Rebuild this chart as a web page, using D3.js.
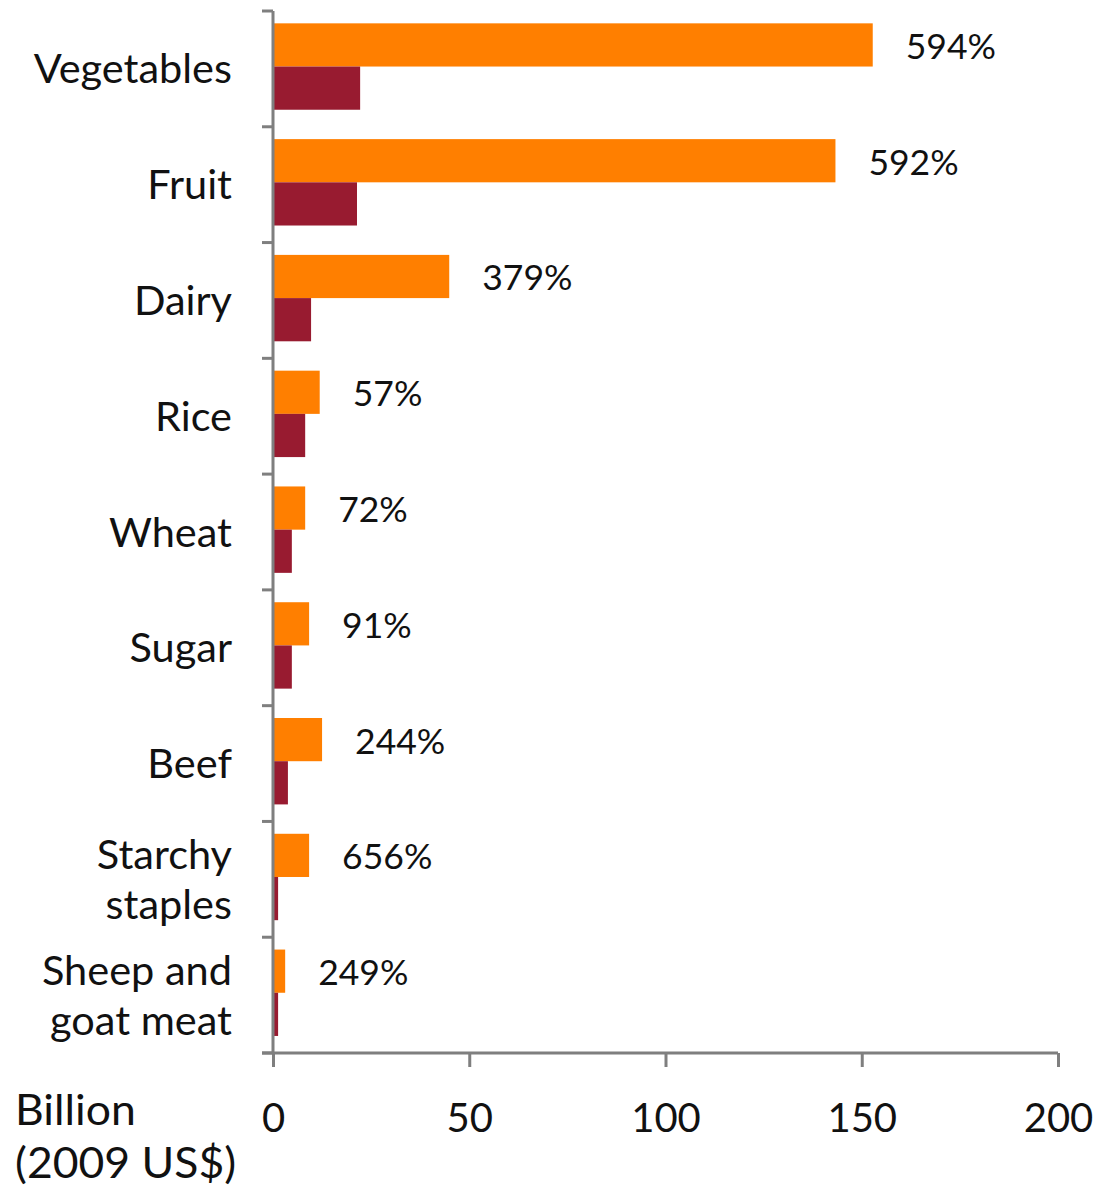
<!DOCTYPE html>
<html>
<head>
<meta charset="utf-8">
<script src="https://cdn.jsdelivr.net/npm/d3@7"></script>
<style>
  html, body { margin: 0; padding: 0; background: #fff; }
  svg { display: block; }
  text { font-family: Lato, "Open Sans", sans-serif; fill: #111; }
</style>
</head>
<body>
<svg id="chart" width="1102" height="1198"></svg>
<script>
// Food categories (top to bottom); multi-line names split with "\n"
const categories = ["Vegetables", "Fruit", "Dairy", "Rice", "Wheat", "Sugar", "Beef", "Starchy\nstaples", "Sheep and\ngoat meat"];
// Value of production, billion 2009 US$
const projectedValues = [152.8, 143.3, 44.9, 11.9, 8.2, 9.2, 12.5, 9.2, 3.1];
const baseValues = [22.2, 21.4, 9.7, 8.2, 4.8, 4.8, 3.8, 1.3, 1.3];
// Percentage growth shown beside each category
const growthLabels = ["594%", "592%", "379%", "57%", "72%", "91%", "244%", "656%", "249%"];
const seriesNames = ["projected", "base"];
const xTicks = [0, 50, 100, 150, 200];

const colors = { projected: "#FF7F00", base: "#981B30" };
const axisColor = "#7F7F7F";

const svg = d3.select("#chart");
const plotLeft = 273, plotRight = 1058, plotTop = 11, plotBottom = 1053;

const x = d3.scaleLinear().domain([0, 200]).range([plotLeft, plotRight]);
const y = d3.scaleBand().domain(categories).range([plotTop, plotBottom]).paddingInner(0).paddingOuter(0);
const ySub = d3.scaleBand().domain(seriesNames).range([0, y.bandwidth()]).paddingInner(0).paddingOuter(0.34).align(0.42);

const rows = categories.map((c, i) => ({
  cat: c,
  values: [
    { key: "projected", v: projectedValues[i] },
    { key: "base", v: baseValues[i] }
  ],
  label: growthLabels[i]
}));

// Bars
const groups = svg.append("g").selectAll("g")
  .data(rows).join("g")
  .attr("transform", d => `translate(0,${y(d.cat)})`);

groups.selectAll("rect")
  .data(d => d.values).join("rect")
  .attr("x", x(0))
  .attr("y", d => ySub(d.key))
  .attr("width", d => x(d.v) - x(0))
  .attr("height", ySub.bandwidth())
  .attr("fill", d => colors[d.key]);

// Growth labels next to the projected bar
groups.append("text")
  .attr("x", d => x(d.values[0].v) + 33)
  .attr("y", ySub("projected") + ySub.bandwidth() / 2 + 14)
  .attr("font-size", 35.5)
  .text(d => d.label);

// Category axis (left) with ticks at band boundaries
const yAxisG = svg.append("g");
yAxisG.append("line")
  .attr("x1", plotLeft).attr("x2", plotLeft)
  .attr("y1", plotTop).attr("y2", plotBottom)
  .attr("stroke", axisColor).attr("stroke-width", 3);
const boundaries = categories.map(c => y(c)).concat([plotBottom]);
yAxisG.selectAll("line.tick").data(boundaries).join("line")
  .attr("class", "tick")
  .attr("x1", plotLeft - 11).attr("x2", plotLeft)
  .attr("y1", d => d).attr("y2", d => d)
  .attr("stroke", axisColor).attr("stroke-width", 3);

// Category names
const catLabels = svg.append("g").selectAll("text")
  .data(categories).join("text")
  .attr("text-anchor", "end")
  .attr("font-size", 41.5)
  .attr("transform", d => `translate(${plotLeft - 41},${y(d) + y.bandwidth() / 2 + 14.5})`);
catLabels.each(function (d) {
  const lines = d.split("\n");
  const lh = 50;
  const t = d3.select(this);
  lines.forEach((ln, k) => {
    t.append("tspan")
      .attr("x", 0)
      .attr("y", (k - (lines.length - 1) / 2) * lh)
      .text(ln);
  });
});

// Value axis (bottom)
const xAxis = d3.axisBottom(x).tickValues(xTicks).tickSize(14).tickPadding(37).tickFormat(d3.format("d"));
const xAxisG = svg.append("g").attr("transform", `translate(0,${plotBottom})`).call(xAxis);
xAxisG.select(".domain").remove();
xAxisG.selectAll(".tick line").attr("stroke", axisColor).attr("stroke-width", 3);
xAxisG.selectAll(".tick text")
  .attr("font-size", 40).attr("fill", "#111")
  .style("font-family", "Lato, 'Open Sans', sans-serif");
xAxisG.append("line")
  .attr("x1", plotLeft - 11).attr("x2", plotRight)
  .attr("y1", 0).attr("y2", 0)
  .attr("stroke", axisColor).attr("stroke-width", 3);

// Unit caption
const caption = svg.append("g").attr("transform", "translate(15,0) scale(1.06,1)");
caption.append("text").attr("x", 0).attr("y", 1125)
  .attr("font-size", 42).text("Billion");
caption.append("text").attr("x", 0).attr("y", 1178)
  .attr("font-size", 42).text("(2009 US$)");
</script>
</body>
</html>
